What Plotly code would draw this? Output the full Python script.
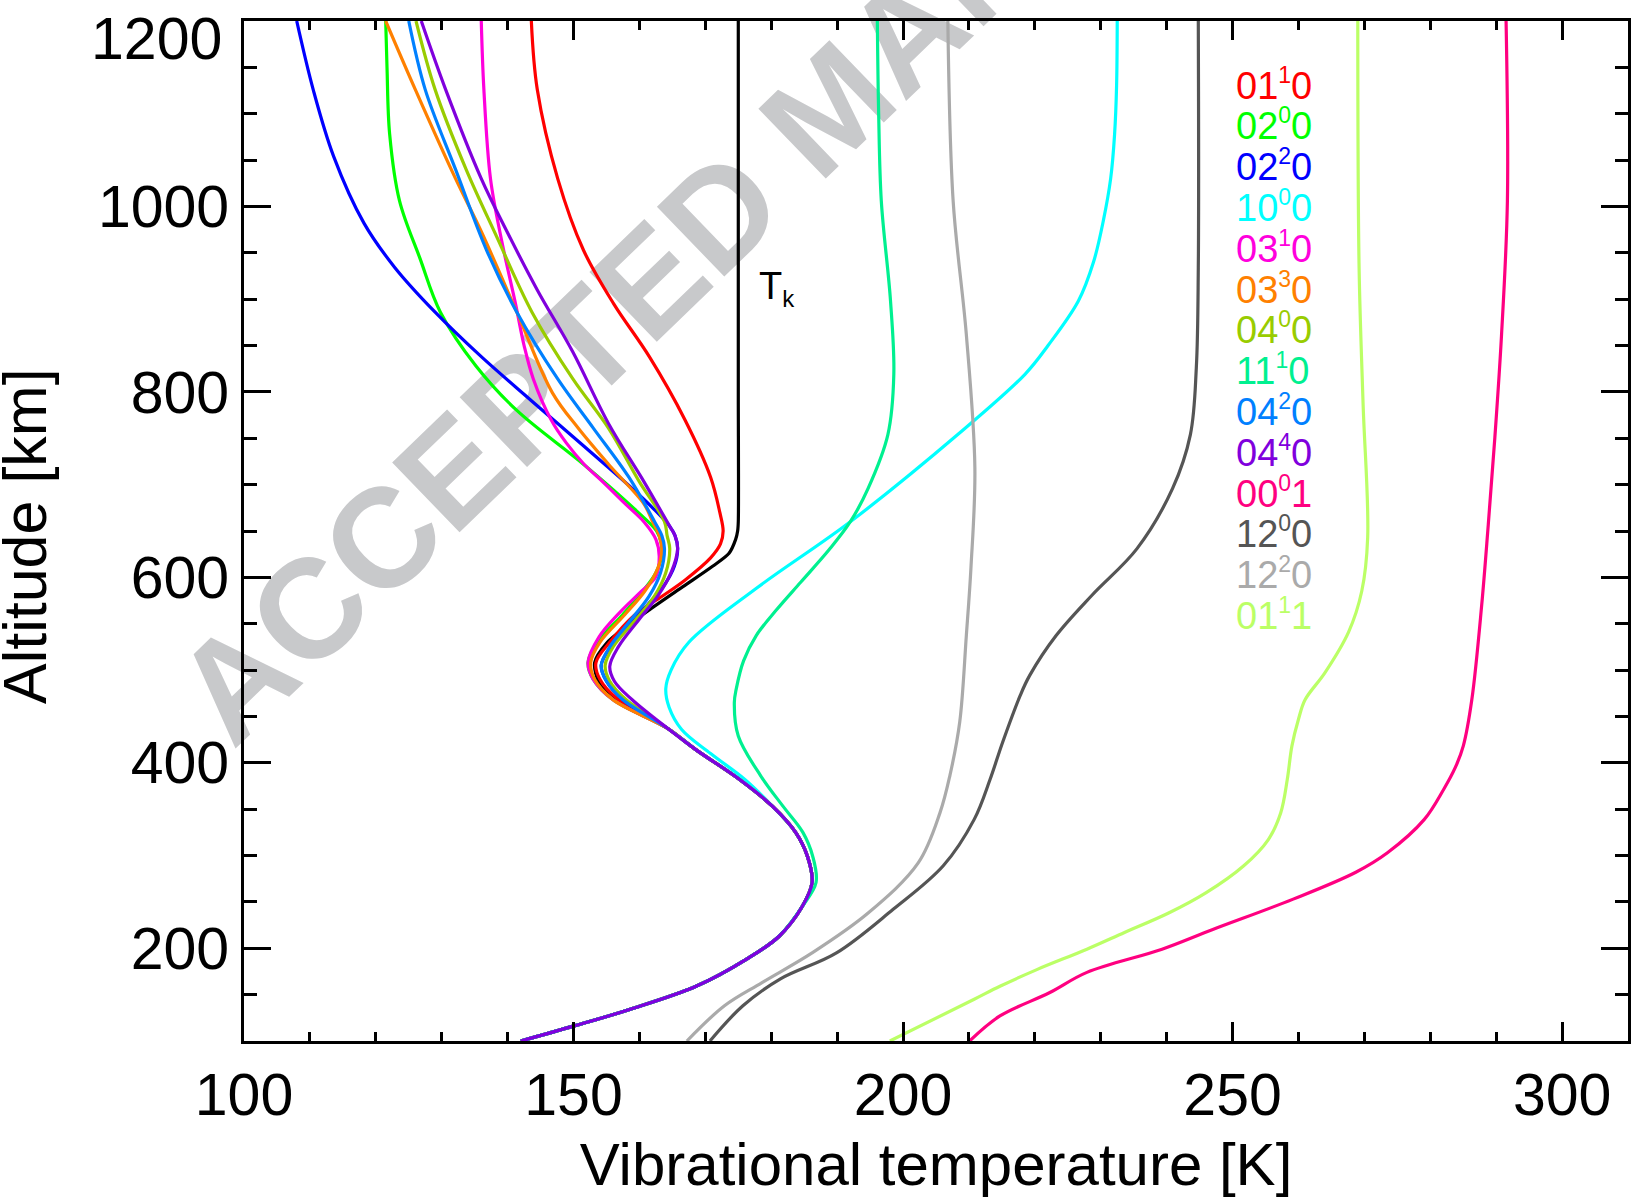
import plotly.graph_objects as go

# ---------------- data ----------------
# shared lower profile (all bending-mode levels coincide below ~440 km)
COMMON_ALT = [100, 116, 134, 159, 188, 213, 245, 271, 299, 325, 353, 382, 414, 437]
COMMON_T = [142.0, 150.0, 158.5, 168.6, 176.2, 181.2, 184.7, 186.2, 185.5, 183.7, 180.2, 175.2, 168.6, 164.3]

TK_ALT = [468, 486, 508, 529, 547, 565, 590, 612, 626, 641, 650, 660, 800, 1000, 1200]
TK_T = [156.5, 153.9, 153.2, 155.0, 158.0, 161.5, 166.6, 171.1, 173.6, 174.6, 174.9, 175.0, 175.0, 175.0, 175.0]

V0110_ALT = [468, 490, 508, 530, 559, 578, 597, 621, 636, 650, 670, 708, 770, 838, 895, 953, 1030, 1126, 1200]
V0110_T = [156.8, 154.0, 153.4, 155.5, 159.2, 163.1, 166.9, 170.8, 172.3, 172.7, 172.2, 170.8, 166.9, 161.5, 156.1, 151.5, 147.6, 144.5, 143.6]

V0200_ALT = [468, 490, 508, 530, 560, 585, 605, 625, 637, 650, 674, 722, 780, 828, 886, 944, 1006, 1078, 1150, 1200]
V0200_T = [156.0, 153.0, 152.2, 153.6, 157.5, 160.5, 162.5, 163.4, 163.3, 162.6, 159.2, 151.5, 141.4, 135.2, 129.8, 126.7, 123.6, 122.1, 121.7, 121.5]

V0220_ALT = [468, 488, 505, 525, 554, 575, 592, 612, 631, 645, 655, 675, 694, 742, 790, 838, 886, 934, 982, 1054, 1126, 1200]
V0220_T = [157.5, 155.0, 154.2, 155.6, 159.2, 161.8, 163.8, 165.3, 165.8, 165.4, 164.6, 162.0, 159.2, 151.5, 143.7, 136.0, 129.0, 122.9, 118.2, 113.6, 110.5, 108.0]

V1000_ALT = [382, 410, 436, 460, 480, 500, 530, 588, 660, 754, 819, 850, 898, 940, 985, 1030, 1078, 1130, 1200]
V1000_T = [176.0, 170.8, 166.4, 164.5, 164.0, 164.8, 167.5, 177.7, 192.0, 208.3, 218.5, 222.0, 226.6, 228.9, 230.4, 231.5, 232.1, 232.4, 232.5]

V0310_ALT = [468, 490, 508, 536, 562, 583, 601, 623, 641, 659, 679, 702, 722, 745, 770, 814, 850, 895, 963, 1030, 1126, 1200]
V0310_T = [156.0, 153.0, 152.2, 153.9, 157.0, 160.0, 162.5, 163.0, 162.5, 160.8, 157.9, 154.6, 151.6, 148.9, 146.6, 143.9, 142.5, 141.2, 139.1, 137.4, 136.4, 136.0]

V0330_ALT = [468, 490, 508, 530, 560, 585, 610, 630, 645, 660, 679, 722, 761, 799, 886, 973, 1030, 1126, 1200]
V0330_T = [156.0, 153.2, 152.6, 154.0, 157.8, 160.8, 162.8, 163.4, 163.0, 162.0, 160.7, 155.3, 150.7, 146.8, 141.4, 136.0, 132.1, 126.0, 121.5]

V0400_ALT = [468, 488, 505, 525, 555, 580, 605, 631, 645, 660, 703, 761, 814, 886, 968, 1040, 1126, 1200]
V0400_T = [158.0, 155.5, 154.8, 156.0, 159.5, 162.3, 164.0, 164.6, 164.2, 163.8, 160.0, 155.3, 149.9, 143.7, 138.3, 133.7, 129.0, 126.1]

V1110_ALT = [271, 299, 325, 353, 386, 429, 465, 480, 510, 537, 565, 595, 630, 660, 696, 754, 819, 898, 1006, 1100, 1200]
V1110_T = [186.8, 186.3, 184.8, 181.8, 178.4, 175.0, 174.4, 174.7, 175.8, 177.7, 180.8, 184.5, 188.8, 192.0, 194.7, 197.7, 198.6, 198.1, 196.7, 196.3, 196.1]

V0420_ALT = [468, 488, 505, 525, 555, 580, 605, 631, 645, 660, 708, 761, 814, 886, 953, 1040, 1126, 1200]
V0420_T = [157.5, 155.0, 154.2, 155.5, 158.8, 161.5, 163.2, 163.8, 163.4, 162.3, 158.4, 153.0, 147.6, 141.4, 136.8, 132.1, 127.5, 125.0]

V0440_ALT = [468, 488, 504, 525, 555, 580, 605, 631, 645, 655, 703, 766, 843, 910, 973, 1030, 1126, 1200]
V0440_T = [158.9, 156.2, 155.5, 156.8, 160.0, 162.8, 164.8, 165.8, 165.4, 164.6, 160.7, 155.3, 149.9, 144.5, 139.9, 136.0, 130.6, 126.9]

V0001_ALT = [100, 127, 152, 174, 199, 220, 253, 282, 303, 339, 371, 395, 418, 468, 570, 657, 751, 860, 1005, 1200]
V0001_T = [210.1, 214.7, 222.2, 227.9, 239.3, 246.9, 259.2, 268.7, 273.5, 279.1, 282.0, 283.8, 285.0, 286.3, 287.8, 288.8, 289.8, 290.8, 291.7, 291.5]

V1200_ALT = [100, 138, 167, 195, 242, 289, 339, 382, 422, 473, 494, 537, 581, 631, 696, 754, 826, 934, 1200]
V1200_T = [170.7, 175.7, 181.4, 189.9, 198.5, 206.1, 210.8, 213.2, 215.1, 217.8, 219.2, 223.2, 228.7, 235.5, 240.9, 243.6, 244.5, 244.8, 244.8]

V1220_ALT = [100, 138, 163, 195, 238, 292, 346, 386, 444, 537, 610, 718, 862, 1006, 1200]
V1220_T = [167.2, 172.9, 178.6, 186.2, 194.7, 202.3, 205.6, 207.1, 208.6, 209.6, 210.3, 210.9, 209.6, 207.6, 206.8]

V0111_ALT = [100, 145, 159, 177, 199, 217, 238, 260, 289, 317, 346, 382, 418, 447, 468, 497, 541, 585, 643, 788, 933, 1200]
V0111_T = [198.0, 210.8, 214.7, 220.3, 227.9, 233.6, 240.3, 246.0, 251.7, 255.4, 257.3, 258.3, 259.0, 260.0, 261.0, 264.0, 267.6, 269.6, 270.5, 269.8, 269.2, 269.0]

LABELS = ["01<sup>1</sup>0", "02<sup>0</sup>0", "02<sup>2</sup>0", "10<sup>0</sup>0",
          "03<sup>1</sup>0", "03<sup>3</sup>0", "04<sup>0</sup>0", "11<sup>1</sup>0",
          "04<sup>2</sup>0", "04<sup>4</sup>0", "00<sup>0</sup>1", "12<sup>0</sup>0",
          "12<sup>2</sup>0", "01<sup>1</sup>1"]
COLORS = ["#ff0000", "#00ff00", "#0000ff", "#00ffff", "#ff00dd", "#ff8000", "#99cc00",
          "#00f090", "#0080ff", "#8000dd", "#ff0080", "#555555", "#aaaaaa", "#bbff66"]

X_TICKS = [100, 150, 200, 250, 300]
Y_TICKS = [200, 400, 600, 800, 1000, 1200]

# ---------------- build series ----------------
def with_common(alt, t, upto):
    ca = [a for a in COMMON_ALT if a <= upto]
    ct = COMMON_T[:len(ca)]
    return ct + t, ca + alt

series = [
    with_common(V0110_ALT, V0110_T, 437),
    with_common(V0200_ALT, V0200_T, 437),
    with_common(V0220_ALT, V0220_T, 437),
    with_common(V1000_ALT, V1000_T, 353),
    with_common(V0310_ALT, V0310_T, 437),
    with_common(V0330_ALT, V0330_T, 437),
    with_common(V0400_ALT, V0400_T, 437),
    with_common(V1110_ALT, V1110_T, 245),
    with_common(V0420_ALT, V0420_T, 437),
    with_common(V0440_ALT, V0440_T, 437),
    (V0001_T, V0001_ALT),
    (V1200_T, V1200_ALT),
    (V1220_T, V1220_ALT),
    (V0111_T, V0111_ALT),
]

fig = go.Figure()

LW = 3.2
tk_t, tk_a = with_common(TK_ALT, TK_T, 437)
fig.add_trace(go.Scatter(x=tk_t, y=tk_a, mode="lines",
                         line=dict(color="black", width=LW, shape="spline", smoothing=0.8),
                         showlegend=False, hoverinfo="skip"))

for (t, a), col in zip(series, COLORS):
    fig.add_trace(go.Scatter(x=t, y=a, mode="lines",
                             line=dict(color=col, width=LW, shape="spline", smoothing=1.0),
                             showlegend=False, hoverinfo="skip"))

FONT = "Liberation Sans, Arial, Helvetica, sans-serif"

# legend labels as coloured text
for i, (lab, col) in enumerate(zip(LABELS, COLORS)):
    fig.add_annotation(x=250.2, y=1132 - 44 * i, xref="x", yref="y",
                       text=lab.replace("<sup>", "<sup><span style='font-size:23px'>").replace("</sup>", "</span></sup>"),
                       showarrow=False, xanchor="left", yanchor="middle",
                       font=dict(family=FONT, size=38, color=col))

# T_k label
fig.add_annotation(x=177.9, y=912, xref="x", yref="y",
                   text="T<sub><span style='font-size:24px'>k</span></sub>",
                   showarrow=False, xanchor="left", yanchor="middle",
                   font=dict(family=FONT, size=38, color="black"))

# top y tick label sits slightly below its tick in the reference
fig.add_annotation(x=-20 / 1384, y=(1041 - 39) / 1020, xref="paper", yref="paper",
                   text=str(Y_TICKS[-1]), showarrow=False, xanchor="right", yanchor="middle",
                   font=dict(family=FONT, size=59, color="black"))

# y-axis title
fig.add_annotation(x=(24.5 - 244) / 1384, y=(1041 - 536.5) / 1020, xref="paper", yref="paper",
                   text="Altitude [km]", textangle=-90, showarrow=False,
                   xanchor="center", yanchor="middle",
                   font=dict(family=FONT, size=61, color="black"))

# watermark (below the curves)
cx, cy = (821 - 244) / 1384, (1041 - 97) / 1020
fig.add_shape(type="rect", xref="paper", yref="paper",
              x0=cx - 0.001, x1=cx + 0.001, y0=cy - 0.001, y1=cy + 0.001,
              line=dict(width=0), fillcolor="rgba(0,0,0,0)", layer="below",
              label=dict(text="<b>ACCEPTED MANUSCRIPT</b>", textangle=-44,
                         textposition="middle center",
                         font=dict(family=FONT, size=141, color="#c8c9cb")))

axis_common = dict(showline=True, linecolor="black", linewidth=3, mirror="ticks",
                   ticks="inside", tickcolor="black", tickwidth=2.5,
                   showgrid=False, zeroline=False, ticklabeloverflow="allow",
                   tickfont=dict(family=FONT, size=59, color="black"))

fig.update_xaxes(range=[100, 310], tickvals=X_TICKS, ticklen=19,
                 minor=dict(dtick=10, tick0=100, ticks="inside", ticklen=9, tickwidth=2.5,
                            tickcolor="black", showgrid=False),
                 ticklabelstandoff=0,
                 title=dict(text="Vibrational temperature [K]", standoff=34,
                            font=dict(family=FONT, size=60, color="black")),
                 **axis_common)
fig.update_yaxes(range=[100, 1200], tickvals=Y_TICKS,
                 ticktext=[str(v) for v in Y_TICKS[:-1]] + [""], ticklen=27,
                 minor=dict(dtick=50, tick0=100, ticks="inside", ticklen=13, tickwidth=2.5,
                            tickcolor="black", showgrid=False),
                 ticklabelstandoff=0,
                 **axis_common)

fig.update_layout(width=1632, height=1198,
                  margin=dict(l=244, r=4, t=21, b=157, autoexpand=False),
                  paper_bgcolor="white", plot_bgcolor="rgba(0,0,0,0)",
                  font=dict(family=FONT, color="black"))

fig.write_html("out.html")
